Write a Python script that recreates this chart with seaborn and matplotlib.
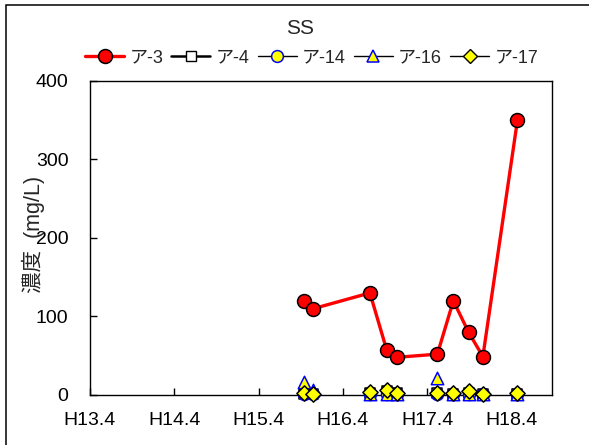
import matplotlib
matplotlib.use("Agg")
import matplotlib.pyplot as plt
from matplotlib.lines import Line2D
from matplotlib.patches import Rectangle
import seaborn as sns

# måletidspunkt, år etter H13.4
tidspunkt = [2.54, 2.65, 3.32, 3.52, 3.64, 4.12, 4.31, 4.49, 4.66, 5.07]
ar_3 = [120, 110, 130, 57, 48, 52, 120, 80, 49, 350]
ar_4 = [1, 1, 2, 5, 3, 2, 1, 2, 1, 1]
ar_14 = [1, 1, 1, 1, 1, 1, 1, 1, 1, 1]
ar_16 = [17, 6, 1, 1, 1, 22, 1, 1, 1, 1]
ar_17 = [2, 1, 4, 6, 3, 3, 2, 5, 1, 3]
x_etiketter = ["H13.4", "H14.4", "H15.4", "H16.4", "H17.4", "H18.4"]
y_ticks = [0, 100, 200, 300, 400]

sns.set_style("white")
plt.rcParams["font.family"] = ["Liberation Sans", "Noto Sans CJK JP"]

fig = plt.figure(figsize=(5.89, 4.45), dpi=100)
ax = fig.add_axes([0.1528, 0.1124, 0.7844, 0.7056])

sns.lineplot(x=tidspunkt, y=ar_3, ax=ax, color="red", lw=2.4, marker="o",
             markersize=10, markerfacecolor="red", markeredgecolor="black",
             markeredgewidth=1.1, sort=False, errorbar=None, clip_on=False, zorder=3)

# de andre seriene har bare markører i plottet
serier = [
    (ar_4, "s", "white", "black", 60),
    (ar_14, "o", "yellow", "blue", 75),
    (ar_16, "^", "yellow", "blue", 80),
    (ar_17, "D", "yellow", "black", 60),
]
for i, (verdier, mk, fc, ec, s) in enumerate(serier):
    sns.scatterplot(x=tidspunkt, y=verdier, ax=ax, marker=mk, s=s, color=fc,
                    edgecolor=ec, linewidth=1.1, clip_on=False, zorder=4 + i)

ax.set_xlim(0, 5.48)
ax.set_ylim(0, 400)
ax.set_xticks(range(len(x_etiketter)))
ax.set_xticklabels(x_etiketter)
ax.set_yticks(y_ticks)
ax.tick_params(axis="both", direction="in", length=5, width=1, colors="black",
               labelsize=14)
ax.tick_params(axis="y", pad=15.5, left=True)
ax.tick_params(axis="x", pad=12, bottom=True)
for sp in ax.spines.values():
    sp.set_color("black")
    sp.set_linewidth(1.0)

ax.set_ylabel("濃度  (mg/L)", fontsize=15.5)
ax.yaxis.set_label_coords(-0.098, 0.51)

handles = [
    Line2D([], [], color="red", lw=2.4, marker="o", markersize=10,
           markerfacecolor="red", markeredgecolor="black", markeredgewidth=1.1),
    Line2D([], [], color="black", lw=1.8, marker="s", markersize=7.5,
           markerfacecolor="white", markeredgecolor="black"),
    Line2D([], [], color="black", lw=1.0, marker="o", markersize=8.5,
           markerfacecolor="yellow", markeredgecolor="blue", markeredgewidth=1.1),
    Line2D([], [], color="black", lw=1.0, marker="^", markersize=9,
           markerfacecolor="yellow", markeredgecolor="blue", markeredgewidth=1.1),
    Line2D([], [], color="black", lw=1.0, marker="D", markersize=7,
           markerfacecolor="yellow", markeredgecolor="black"),
]
navn = ["ア-3", "ア-4", "ア-14", "ア-16", "ア-17"]
ax.legend(handles, navn, loc="center", bbox_to_anchor=(0.48, 1.073), ncol=5,
          frameon=False, fontsize=13, handlelength=2.15, handletextpad=0.3,
          columnspacing=0.45, borderpad=0)

fig.text(0.509, 0.937, "SS", ha="center", va="center", fontsize=15)

# ramme rundt hele diagrammet
fig.patches.append(Rectangle((0.011, -0.1), 1.2, 1.088, transform=fig.transFigure,
                             fill=False, edgecolor="black", lw=1.1))

fig.savefig("out.png", dpi=100)
